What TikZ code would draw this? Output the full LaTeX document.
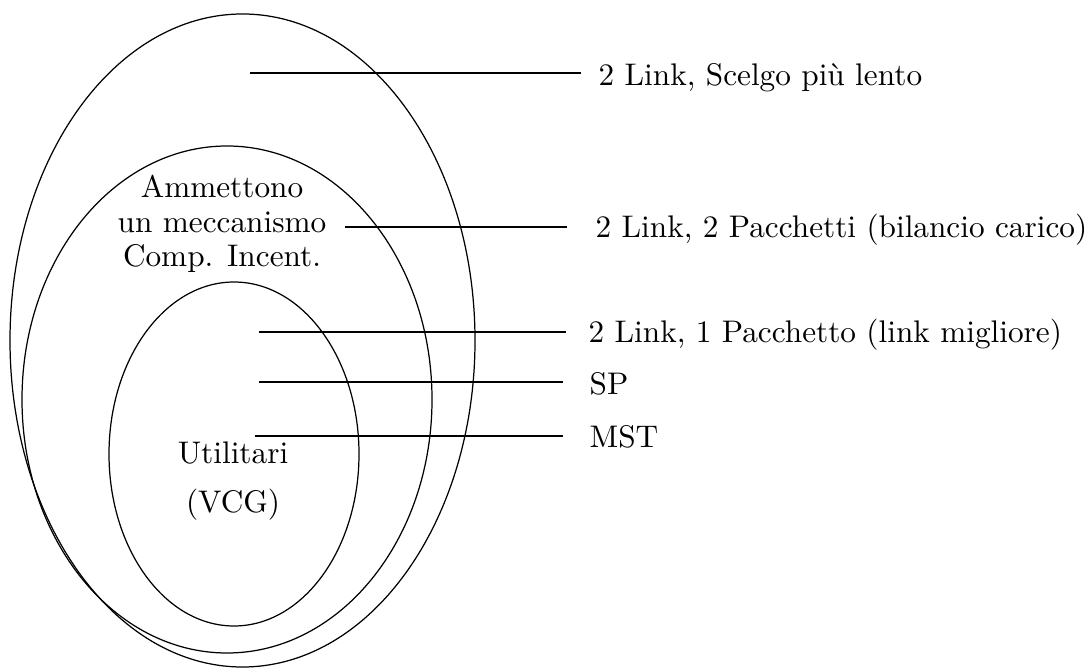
\documentclass[tikz,border=0pt]{standalone}
\begin{document}
\begin{tikzpicture}[x=0.3247pt,y=-0.3247pt,
  setline/.style={line width=0.4pt},
  lead/.style={line width=0.4pt},
  txt/.style={inner sep=0pt,anchor=base,font=\fontsize{10.15pt}{12pt}\selectfont},
  lab/.style={inner sep=0pt,anchor=base west,font=\fontsize{10.15pt}{12pt}\selectfont}]
\useasboundingbox (0,0) rectangle (1086,668);

% nested classes of mechanisms
\draw[setline] (242.5,340.5) ellipse [x radius=232.5,y radius=326.5];
\draw[setline] (227,399.5) ellipse [x radius=205,y radius=253.5];
\draw[setline] (234,454) ellipse [x radius=125,y radius=172];

% labels inside the sets
\node[txt] (am1) at (222,198) {Ammettono};
\node[txt] (am2) at (222,233) {un meccanismo};
\node[txt] (am3) at (222,267) {Comp. Incent.};
\node[txt] (ut) at (233,463) {Utilitari};
\node[txt] (vcg) at (233,512) {(VCG)};

% examples on the right
\node[lab] (l1) at (598,86) {2 Link, Scelgo più lento};
\node[lab] (l2) at (595,238) {2 Link, 2 Pacchetti (bilancio carico)};
\node[lab] (l3) at (588,343) {2 Link, 1 Pacchetto (link migliore)};
\node[lab] (l4) at (589,395) {SP};
\node[lab] (l5) at (589,448) {MST};

% leader lines from each set to its example
\coordinate (s1) at (250,73);  \coordinate (e1) at (581,73);
\coordinate (s2) at (345,227); \coordinate (e2) at (567,227);
\coordinate (s3) at (259,332); \coordinate (e3) at (566,332);
\coordinate (s4) at (259,382); \coordinate (e4) at (563,382);
\coordinate (s5) at (255,436); \coordinate (e5) at (563,436);
\draw[lead] (s1) -- (e1);
\draw[lead] (s2) -- (e2);
\draw[lead] (s3) -- (e3);
\draw[lead] (s4) -- (e4);
\draw[lead] (s5) -- (e5);
\end{tikzpicture}
\end{document}
